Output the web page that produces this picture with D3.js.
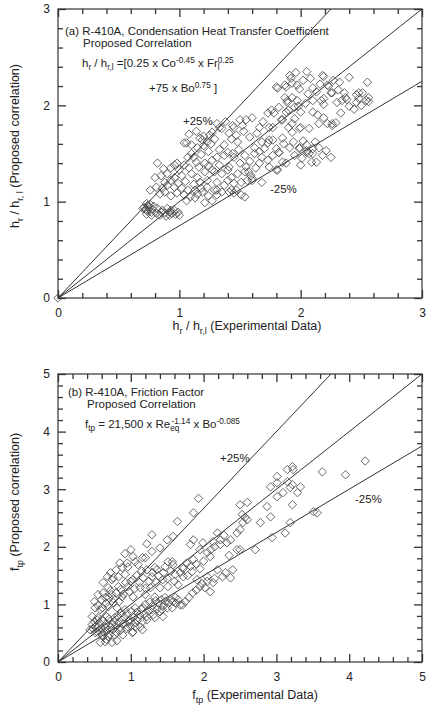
<!DOCTYPE html>
<html lang="en">
<head>
<meta charset="UTF-8">
<title>R-410A Proposed Correlations</title>
<script src="https://cdn.jsdelivr.net/npm/d3@7"></script>
<style>
    body { margin: 0; background: #fff; }
    svg { display: block; font-family: 'Liberation Sans', Arial, sans-serif; }
    .frame { fill: none; stroke: #333; stroke-width: 1.2; }
    .axis path { display: none; }
    .axis line { stroke: #333; stroke-width: 1.3; }
    .axis text { font-size: 12px; fill: #222; font-family: 'Liberation Sans', Arial, sans-serif; }
    .note { fill: #222; }
    .pt { fill: none; stroke: #444; stroke-width: 0.8; }
    .ref { stroke: #333; stroke-width: 1; }
</style>
</head>
<body>
<svg id="chart" width="429" height="708"></svg>
<script>
// (a) heat transfer coefficient ratio: [experimental, proposed]
const htcPoints = [
    [0, 0],
    [1.96, 2.34], [1.91, 2.31], [2.05, 2.35], [2.10, 2.18], [2.18, 2.31], [2.22, 2.21], [2.32, 2.24],
    [2.40, 2.29], [2.55, 2.24], [2.51, 2.13], [2.56, 2.08], [2.48, 2.07], [2.54, 2.05], [1.81, 2.18],
    [1.88, 2.19], [1.87, 2.08], [1.89, 2.05], [1.93, 2.08], [1.97, 2.05], [2.17, 2.05], [2.26, 2.13],
    [2.34, 2.05], [2.37, 2.08], [2.46, 2.11], [2.10, 2.05],
    [2.19, 2.30], [2.16, 2.22], [2.23, 2.20], [2.25, 2.13], [2.19, 2.07], [2.36, 2.13], [2.48, 2.13],
    [2.38, 2.06], [2.46, 2.03], [2.56, 2.04], [2.30, 2.03], [2.19, 2.01], [1.92, 2.28], [1.93, 2.23],
    [1.80, 2.19], [1.87, 2.21], [1.97, 2.21], [1.89, 2.03], [1.95, 1.98], [2.00, 1.93], [2.10, 1.93],
    [2.14, 1.90], [2.19, 1.87], [2.22, 1.81], [2.29, 1.82], [2.26, 1.79], [2.15, 1.81], [2.07, 1.76],
    [2.00, 1.77], [1.93, 1.72], [1.85, 1.66], [1.91, 1.56], [1.99, 1.56], [2.05, 1.53], [2.10, 1.55],
    [2.15, 1.56], [1.80, 1.55], [1.82, 1.51], [1.74, 1.64], [1.77, 1.77], [1.84, 1.85], [1.78, 1.92],
    [1.88, 1.93],
    [1.35, 1.76], [1.45, 1.77], [1.50, 1.85], [1.52, 1.79], [1.60, 1.87], [1.73, 1.92], [1.76, 1.95],
    [1.04, 1.61], [1.10, 1.59], [1.19, 1.64], [1.23, 1.62], [1.29, 1.65], [1.43, 1.65], [1.48, 1.62],
    [1.37, 1.59], [1.62, 1.56], [1.68, 1.62], [1.73, 1.61], [1.77, 1.64],
    [0.82, 1.40], [0.96, 1.38], [1.04, 1.38], [1.07, 1.46], [1.10, 1.50], [1.14, 1.41], [1.21, 1.40],
    [1.27, 1.43], [1.31, 1.46], [1.37, 1.48], [1.45, 1.46], [1.54, 1.48], [1.62, 1.50], [1.68, 1.46],
    [1.73, 1.43], [0.85, 1.27], [0.90, 1.29], [0.80, 1.25], [0.96, 1.25], [1.02, 1.27], [1.10, 1.29],
    [1.15, 1.25], [1.21, 1.31], [1.27, 1.33], [1.29, 1.31], [1.35, 1.29], [1.40, 1.33], [1.43, 1.25],
    [1.48, 1.29], [1.54, 1.31], [1.59, 1.27], [0.76, 1.12], [0.81, 1.15], [0.86, 1.14], [0.90, 1.17],
    [0.96, 1.15], [1.02, 1.14], [1.07, 1.12], [1.13, 1.12], [1.18, 1.14], [1.23, 1.15], [1.29, 1.12],
    [1.35, 1.10], [1.40, 1.22], [1.45, 1.19], [1.51, 1.20], [1.56, 1.22], [1.60, 1.24], [1.43, 1.12],
    [1.51, 1.07], [1.45, 1.09], [1.06, 1.01], [1.13, 1.04], [1.21, 0.99], [1.27, 1.01], [1.31, 1.07],
    [0.71, 0.94], [0.73, 0.91], [0.77, 0.89], [0.81, 0.88], [0.85, 0.89], [0.88, 0.88], [0.92, 0.89],
    [0.96, 0.91], [0.99, 0.89], [0.74, 0.96], [0.82, 0.93], [0.90, 0.93], [0.94, 0.88], [0.70, 0.93],
    [0.84, 0.86], [0.92, 0.86], [0.73, 0.98],
    [1.77, 1.48], [1.82, 1.51], [1.85, 1.41], [1.81, 1.33], [1.88, 1.40], [2.01, 1.45], [2.09, 1.41],
    [2.10, 1.50], [2.18, 1.48], [2.05, 1.51], [1.74, 1.36],
    [0.98, 1.40], [1.06, 1.61], [1.17, 1.66], [1.25, 1.69], [1.33, 1.77], [1.44, 1.79], [1.55, 1.85],
    [1.66, 1.77], [1.74, 1.77], [1.85, 1.85], [1.93, 1.81], [1.99, 1.76], [2.26, 1.81], [2.05, 1.59],
    [1.99, 1.55], [2.07, 1.50], [2.13, 1.41], [1.44, 1.50], [1.50, 1.40], [1.55, 1.36], [1.66, 1.40],
    [1.80, 1.33], [1.60, 1.22], [1.68, 1.20], [1.41, 1.10], [1.54, 1.05], [1.47, 1.12], [1.31, 1.12],
    [0.72, 0.92], [0.74, 0.90], [0.75, 0.94], [0.76, 0.97], [0.78, 0.92], [0.79, 0.95], [0.73, 0.87],
    [0.77, 0.86], [0.86, 0.91], [0.89, 0.85], [0.93, 0.91], [0.97, 0.87], [1.00, 0.86],
    [0.84, 1.08], [0.88, 1.10], [0.93, 1.06], [0.98, 1.09], [1.04, 1.07], [1.09, 1.05], [1.15, 1.08],
    [1.19, 1.10], [1.24, 1.06], [0.88, 1.20], [0.93, 1.22], [0.99, 1.19], [1.05, 1.21], [1.12, 1.18],
    [1.17, 1.20], [1.23, 1.22], [1.31, 1.20], [1.37, 1.17], [0.87, 1.34], [0.93, 1.35], [1.00, 1.33],
    [1.08, 1.35], [1.16, 1.36], [1.24, 1.37], [1.33, 1.38], [1.41, 1.36], [1.12, 1.46], [1.18, 1.49],
    [1.24, 1.52], [1.33, 1.54], [1.40, 1.51], [1.49, 1.54], [1.58, 1.42], [1.63, 1.35], [1.57, 1.31],
    [1.08, 1.70], [1.14, 1.73], [1.20, 1.68], [1.27, 1.72], [1.31, 1.81], [1.38, 1.83], [1.41, 1.71],
    [1.47, 1.69], [1.53, 1.73], [1.58, 1.67], [1.64, 1.71], [1.69, 1.83], [1.15, 1.56], [1.20, 1.58],
    [1.26, 1.60], [1.82, 1.98], [1.90, 1.95], [1.98, 1.99], [2.04, 2.02], [2.06, 2.12], [2.13, 2.14],
    [2.02, 2.26], [1.99, 2.17], [2.08, 2.28], [2.27, 2.26], [2.31, 2.16], [1.86, 1.60], [1.94, 1.62],
    [2.02, 1.63], [2.12, 1.62], [1.95, 1.48], [2.00, 1.38], [2.21, 1.53], [2.25, 1.46], [1.70, 1.55],
    [1.66, 1.52], [1.90, 1.77], [1.95, 1.86], [2.33, 1.92], [2.40, 1.99], [2.44, 1.96], [2.50, 2.00]
];

// (b) two-phase friction factor: [experimental, proposed]
const frictionPoints = [
    [3.63, 3.30], [3.95, 3.25], [4.22, 3.49], [3.01, 3.22], [3.15, 3.34], [3.22, 3.39], [3.23, 3.34],
    [1.93, 2.84], [1.86, 2.59], [1.64, 2.44], [1.29, 2.21], [1.50, 2.12], [1.58, 2.18], [1.40, 1.98],
    [1.29, 1.92], [1.16, 1.81], [1.06, 1.74], [0.96, 1.65], [0.76, 1.46], [0.72, 1.55], [0.88, 1.64],
    [1.03, 1.83], [1.22, 1.60], [1.36, 1.60], [1.51, 1.74], [1.58, 1.69], [1.71, 1.64], [1.77, 1.72],
    [1.86, 1.78], [1.84, 1.57], [1.72, 1.48], [1.91, 1.43], [1.95, 1.31], [2.05, 1.48], [2.13, 1.38],
    [2.26, 1.48], [2.37, 1.46], [2.19, 1.60], [2.09, 1.83], [1.95, 1.95], [1.86, 2.12], [1.82, 2.04],
    [1.99, 2.07], [2.13, 2.09], [2.23, 2.04], [2.32, 2.07], [2.19, 2.24], [2.23, 2.12], [2.37, 2.12],
    [2.46, 2.24], [2.50, 2.30], [2.53, 2.56], [2.57, 2.51], [2.50, 2.73], [2.60, 2.77], [2.46, 1.95],
    [2.54, 2.42], [2.60, 2.47], [2.78, 2.42], [2.92, 2.52], [2.87, 2.70], [3.01, 2.87], [3.09, 2.94],
    [3.19, 3.03], [2.92, 3.04], [3.01, 3.11], [3.15, 3.13], [3.22, 3.08], [3.29, 2.94], [3.22, 2.73],
    [3.33, 3.04], [2.71, 1.95], [2.94, 2.16], [3.12, 2.24], [3.19, 2.42], [3.51, 2.61], [3.56, 2.59],
    [2.50, 1.95], [2.09, 1.22], [2.02, 1.29],
    [0.95, 1.72], [1.10, 1.69], [1.20, 1.81], [1.33, 1.64], [1.47, 1.65], [1.57, 1.74], [0.83, 1.48],
    [0.74, 1.43], [0.92, 1.52], [1.03, 1.43], [1.17, 1.46], [1.29, 1.48], [1.44, 1.43], [1.61, 1.52],
    [0.69, 1.29], [0.83, 1.31], [0.96, 1.31], [1.13, 1.29], [1.27, 1.29], [1.40, 1.29], [1.51, 1.31],
    [1.65, 1.34], [0.55, 1.17], [0.65, 1.12], [0.74, 1.17], [0.88, 1.13], [1.03, 1.13], [1.20, 1.17],
    [1.33, 1.13], [1.47, 1.12], [1.61, 1.12], [1.71, 0.99], [0.51, 0.94], [0.61, 0.94], [0.69, 0.96],
    [0.81, 0.94], [0.92, 0.91], [1.06, 0.94], [1.17, 0.94], [1.29, 0.91], [1.43, 0.91], [1.57, 0.94],
    [0.47, 0.79], [0.55, 0.77], [0.67, 0.79], [0.78, 0.77], [0.88, 0.73], [0.99, 0.73], [1.10, 0.77],
    [1.22, 0.79], [1.33, 0.77], [1.44, 0.79], [0.47, 0.65], [0.55, 0.61], [0.65, 0.60], [0.74, 0.65],
    [0.85, 0.60], [0.96, 0.61], [1.06, 0.61], [1.16, 0.56], [0.51, 0.51], [0.61, 0.47], [0.69, 0.44],
    [0.78, 0.47], [0.89, 0.47], [1.02, 0.51], [0.58, 0.34], [0.65, 0.35], [0.74, 0.34], [0.81, 0.37],
    [0.44, 0.56], [0.54, 0.52], [0.62, 0.44], [0.67, 0.39], [0.54, 0.73], [0.58, 0.91], [0.76, 1.03],
    [1.40, 0.87], [1.50, 0.94], [1.68, 0.99], [1.03, 0.52], [1.13, 0.61], [1.22, 0.73], [1.31, 0.82],
    [0.48, 0.58], [0.50, 0.70], [0.52, 0.62], [0.56, 0.55], [0.57, 0.68], [0.60, 0.58], [0.62, 0.72],
    [0.63, 0.52], [0.66, 0.66], [0.68, 0.55], [0.70, 0.74], [0.71, 0.48], [0.72, 0.60], [0.75, 0.56],
    [0.77, 0.70], [0.79, 0.62], [0.80, 0.52], [0.82, 0.80], [0.84, 0.68], [0.86, 0.55], [0.87, 0.85],
    [0.90, 0.66], [0.91, 0.78], [0.94, 0.58], [0.95, 0.84], [0.97, 0.70], [1.00, 0.62], [1.01, 0.88],
    [1.04, 0.78], [1.05, 0.68], [1.08, 0.86], [1.09, 0.72], [1.12, 0.82], [1.14, 0.92], [1.16, 0.70],
    [1.19, 0.84], [1.20, 1.00], [1.24, 0.88], [1.26, 1.04], [1.30, 0.98], [1.34, 1.06], [1.36, 0.92],
    [1.38, 1.02], [1.42, 1.08], [1.45, 0.98], [1.48, 1.05], [1.52, 1.02], [1.55, 1.08], [1.58, 1.05],
    [1.62, 1.02], [1.65, 1.08], [1.75, 1.05], [1.80, 1.12], [1.85, 1.20], [1.90, 1.25], [1.98, 1.36],
    [2.05, 1.40], [2.15, 1.45], [2.30, 1.55], [2.40, 1.60],
    [0.50, 1.05], [0.55, 0.98], [0.60, 1.08], [0.62, 1.20], [0.66, 1.02], [0.70, 1.12], [0.72, 1.24],
    [0.76, 1.10], [0.80, 1.20], [0.84, 1.05], [0.86, 1.26], [0.90, 1.18], [0.93, 1.38], [0.98, 1.22],
    [1.00, 1.40], [1.05, 1.27], [1.08, 1.50], [1.12, 1.38], [1.15, 1.58], [1.20, 1.28], [1.25, 1.40],
    [1.30, 1.55], [1.35, 1.38], [1.38, 1.50], [1.45, 1.55], [1.50, 1.45], [1.55, 1.58], [1.60, 1.40],
    [1.68, 1.55], [1.72, 1.62], [1.78, 1.50], [1.82, 1.66], [1.90, 1.70], [1.95, 1.62], [2.00, 1.75],
    [2.05, 1.90], [2.10, 1.95], [2.15, 2.00], [2.28, 2.20], [2.35, 1.85], [0.62, 1.38], [0.68, 1.48],
    [0.80, 1.60], [0.85, 1.72], [0.92, 1.88], [1.00, 1.95], [1.22, 2.05]
];

const htcTicks = [0, 1, 2, 3];
const frictionTicks = [0, 1, 2, 3, 4, 5];
// reference lines: +25% (1/0.75), perfect agreement, -25%
const refSlopes = [1 / 0.75, 1, 0.75];

// rich text pieces: [text, "sub" | "sup" | undefined, dx]
const htcNotes = [
    { x: 65, y: 35, parts: [["(a) R-410A, Condensation Heat Transfer Coefficient"]] },
    { x: 83, y: 47, parts: [["Proposed Correlation"]] },
    { x: 82, y: 67, parts: [["h"], ["r", "sub"], [" / h"], ["r,l", "sub"], [" =[0.25 x Co"], ["-0.45", "sup"],
        [" x Fr"], ["l", "sub"], ["0.25", "sup", -2]] },
    { x: 149, y: 92, parts: [["+75 x Bo"], ["0.75", "sup"], [" ]"]] },
    { x: 183, y: 125, parts: [["+25%"]] },
    { x: 270, y: 193, parts: [["-25%"]] }
];
const frictionNotes = [
    { x: 68, y: 396, parts: [["(b) R-410A, Friction Factor"]] },
    { x: 87, y: 408, parts: [["Proposed Correlation"]] },
    { x: 85, y: 428, parts: [["f"], ["tp", "sub"], [" = 21,500 x Re"], ["eq", "sub"], ["-1.14", "sup", -8],
        [" x Bo"], ["-0.085", "sup"]] },
    { x: 220, y: 462, parts: [["+25%"]] },
    { x: 355, y: 503, parts: [["-25%"]] }
];

const svg = d3.select("#chart");

function richText(sel, parts, fs) {
    let shift = 0;
    parts.forEach(([t, kind, dx]) => {
        const target = kind === "sub" ? fs * 0.3 : kind === "sup" ? -fs * 0.38 : 0;
        const ts = sel.append("tspan")
            .attr("dy", target - shift)
            .style("font-size", kind ? (fs * 0.72) + "px" : fs + "px")
            .text(t);
        if (dx) ts.attr("dx", dx);
        shift = target;
    });
}

function drawPanel(cfg) {
    const x = d3.scaleLinear().domain([0, cfg.max]).range([58, 422]);
    const y = d3.scaleLinear().domain([0, cfg.max]).range([cfg.bottom, cfg.top]);
    const minor = d3.range(0, cfg.max + 0.001, 0.2).filter(v => Math.abs(v - Math.round(v)) > 1e-6);
    const g = svg.append("g");

    // minor ticks on all four sides, pointing inward
    g.append("g").attr("class", "axis").attr("transform", `translate(0,${cfg.bottom})`)
        .call(d3.axisBottom(x).tickValues(minor).tickSize(-5).tickFormat(""));
    g.append("g").attr("class", "axis").attr("transform", `translate(0,${cfg.top})`)
        .call(d3.axisTop(x).tickValues(minor).tickSize(-5).tickFormat(""));
    g.append("g").attr("class", "axis").attr("transform", "translate(58,0)")
        .call(d3.axisLeft(y).tickValues(minor).tickSize(-5).tickFormat(""));
    g.append("g").attr("class", "axis").attr("transform", "translate(422,0)")
        .call(d3.axisRight(y).tickValues(minor).tickSize(-5).tickFormat(""));

    // major ticks + labels
    g.append("g").attr("class", "axis").attr("transform", `translate(0,${cfg.bottom})`)
        .call(d3.axisBottom(x).tickValues(cfg.ticks).tickSize(-8).tickPadding(10).tickFormat(d3.format("d")));
    g.append("g").attr("class", "axis").attr("transform", `translate(0,${cfg.top})`)
        .call(d3.axisTop(x).tickValues(cfg.ticks).tickSize(-8).tickFormat(""));
    g.append("g").attr("class", "axis").attr("transform", "translate(58,0)")
        .call(d3.axisLeft(y).tickValues(cfg.ticks).tickSize(-8).tickPadding(8).tickFormat(d3.format("d")));
    g.append("g").attr("class", "axis").attr("transform", "translate(422,0)")
        .call(d3.axisRight(y).tickValues(cfg.ticks).tickSize(-8).tickFormat(""));

    g.append("rect").attr("class", "frame")
        .attr("x", 58).attr("y", cfg.top)
        .attr("width", 364).attr("height", cfg.bottom - cfg.top);

    // reference lines
    g.selectAll("line.ref").data(refSlopes).join("line")
        .attr("class", "ref")
        .attr("x1", x(0)).attr("y1", y(0))
        .attr("x2", s => x(Math.min(cfg.max, cfg.max / s)))
        .attr("y2", s => y(Math.min(cfg.max, cfg.max * s)));

    // open diamonds
    const r = 4.2;
    g.selectAll("path.pt").data(cfg.points).join("path")
        .attr("class", "pt")
        .attr("d", d => {
            const cx = x(d[0]), cy = y(d[1]);
            return `M${cx},${cy - r}L${cx + r},${cy}L${cx},${cy + r}L${cx - r},${cy}Z`;
        });

    // annotations
    cfg.notes.forEach(n => {
        const t = g.append("text").attr("class", "note").attr("x", n.x).attr("y", n.y);
        richText(t, n.parts, 11.5);
    });

    // axis titles
    const xt = g.append("text").attr("class", "note")
        .attr("x", cfg.xTitleX).attr("y", cfg.xTitleY).attr("text-anchor", "middle");
    richText(xt, cfg.xTitle, 12.5);
    const yt = g.append("text").attr("class", "note")
        .attr("transform", `translate(19,${cfg.yTitleY}) rotate(-90)`)
        .attr("text-anchor", "middle");
    richText(yt, cfg.yTitle, 12.5);
}

drawPanel({
    max: 3, top: 9, bottom: 298, ticks: htcTicks, points: htcPoints, notes: htcNotes,
    xTitleX: 247, xTitleY: 330, yTitleY: 146,
    xTitle: [["h"], ["r", "sub"], [" / h"], ["r,l", "sub"], ["  (Experimental Data)"]],
    yTitle: [["h"], ["r", "sub"], [" / h"], ["r, l", "sub"], [" (Proposed correlation)"]]
});
drawPanel({
    max: 5, top: 374, bottom: 662, ticks: frictionTicks, points: frictionPoints, notes: frictionNotes,
    xTitleX: 255, xTitleY: 699, yTitleY: 502,
    xTitle: [["f"], ["tp", "sub"], [" (Experimental Data)"]],
    yTitle: [["f"], ["tp", "sub"], [" (Proposed correlation)"]]
});
</script>
</body>
</html>
